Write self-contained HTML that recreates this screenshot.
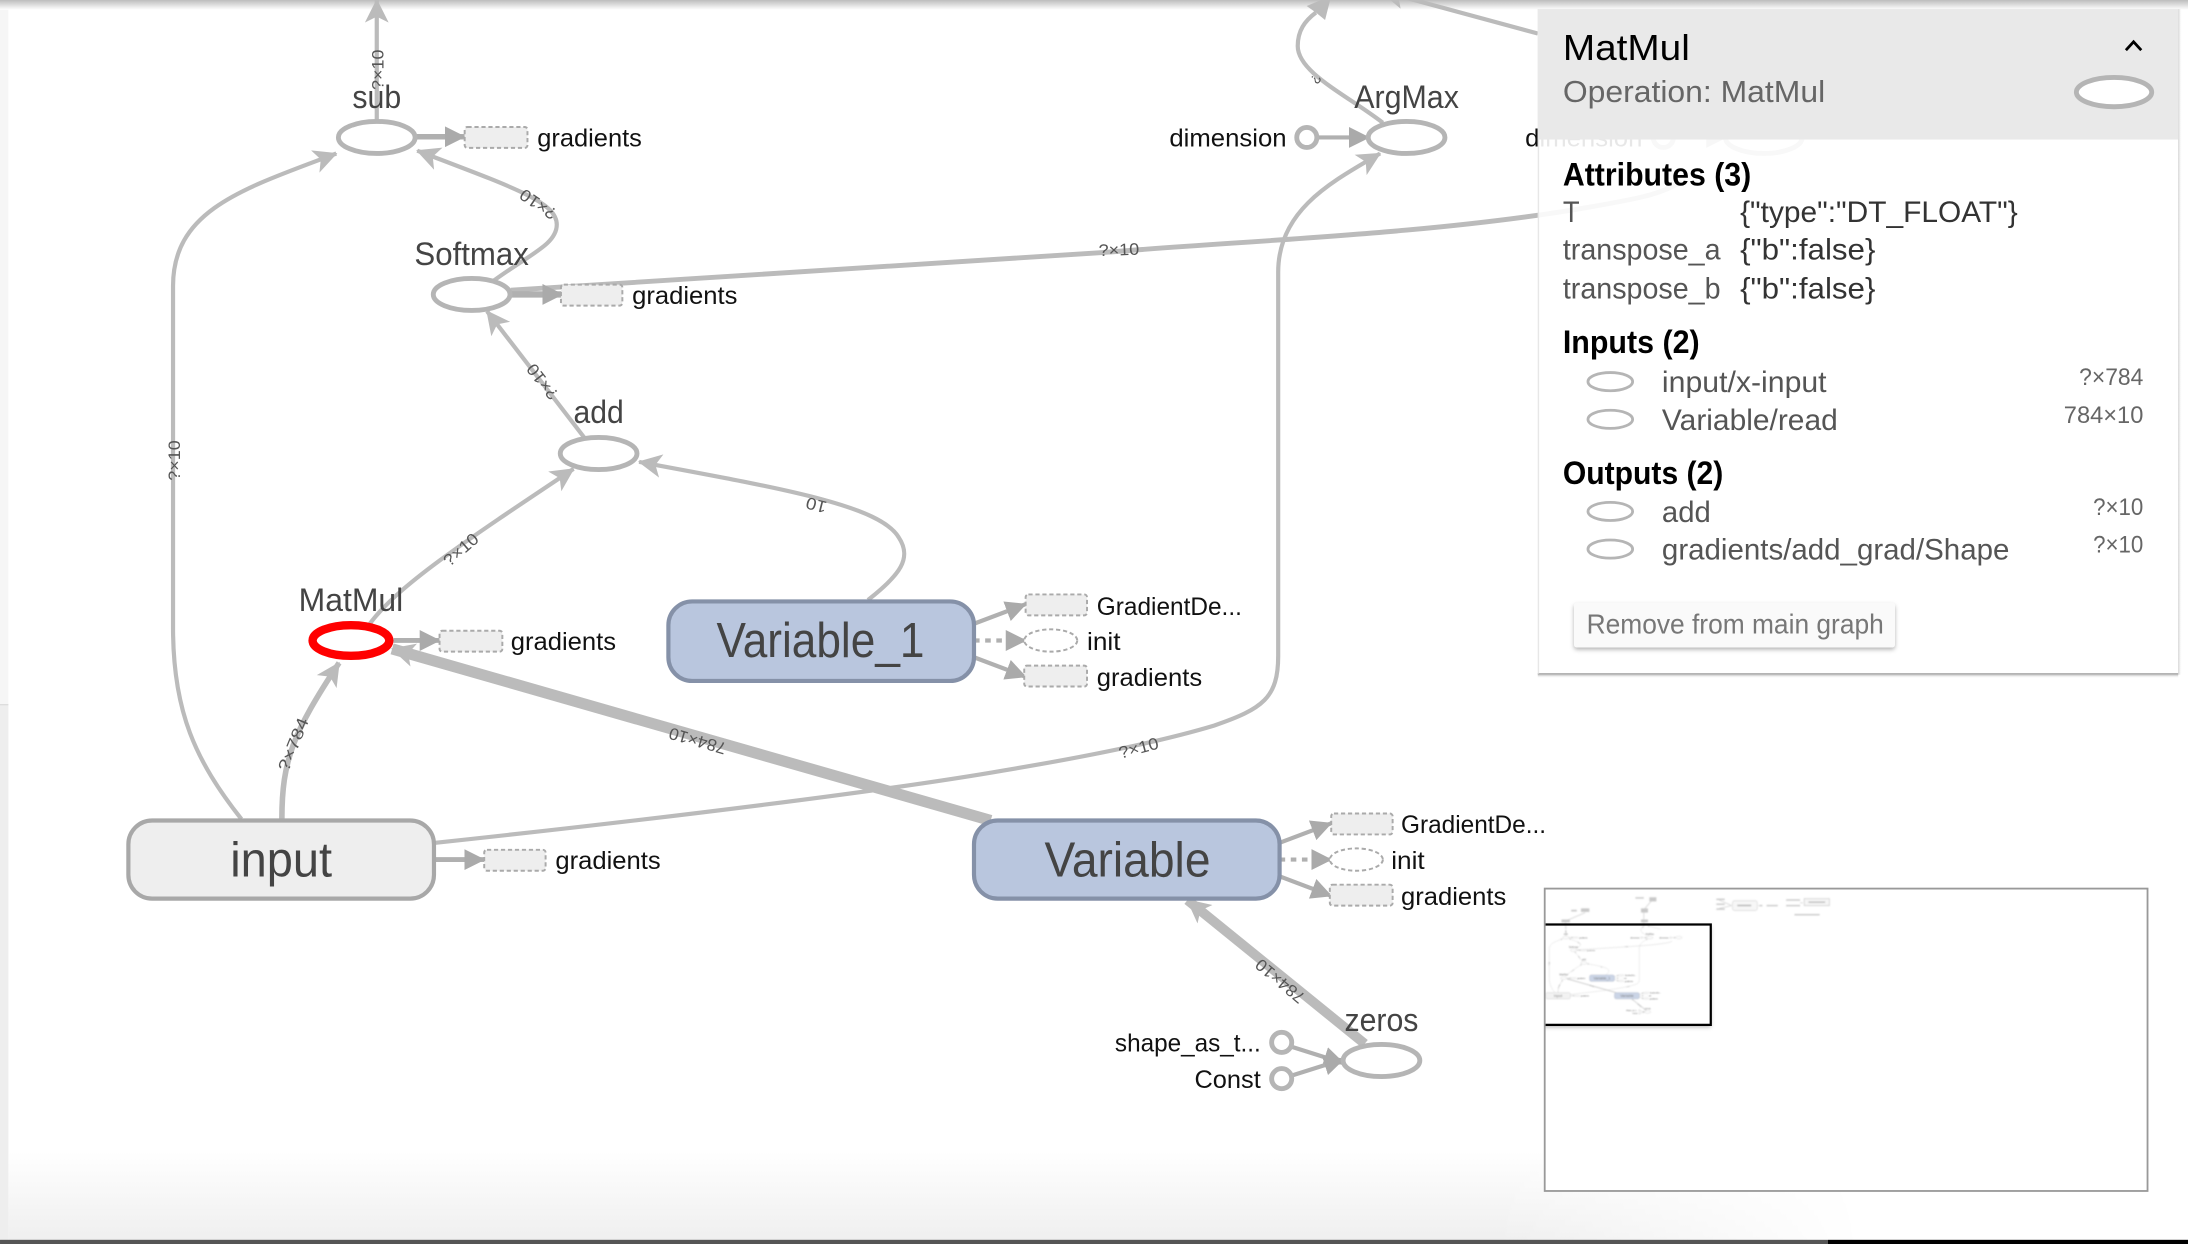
<!DOCTYPE html>
<html><head><meta charset="utf-8"><style>
html,body{margin:0;padding:0;background:#fff;overflow:hidden}
svg{display:block;font-family:"Liberation Sans",sans-serif}
.e{fill:none;stroke:#bbb;stroke-width:3;marker-end:url(#a)}
.en{fill:none;stroke:#bbb;stroke-width:3}
.an{fill:none;stroke:#b0b0b0;stroke-width:3;marker-end:url(#b)}
.d{stroke-dasharray:4 4}
.op{fill:#fff;stroke:#b5b5b5;stroke-width:3.5}
.box{fill:#eee;stroke:#aaa;stroke-width:1.4;stroke-dasharray:3 2}
.t{fill:#444;font-size:23px}
.g{fill:#111;font-size:18px}
.l{fill:#555;font-size:12px}
.big{fill:#444;font-size:35px}
.h{fill:#000;font-size:23px;font-weight:bold}
.p{fill:#555;font-size:21px}
.k{fill:#333;font-size:21px}
.s{fill:#666;font-size:17px}
.io{fill:#fff;stroke:#b5b5b5;stroke-width:2}
</style></head><body>
<svg xmlns="http://www.w3.org/2000/svg" width="2188" height="1244" viewBox="0 0 1568 891.5">
<defs>
<marker id="a" viewBox="0 0 10 10" refX="9.5" refY="5" markerUnits="userSpaceOnUse" markerWidth="19" markerHeight="17" orient="auto"><path d="M0,0L10,5L0,10L2.5,5z" fill="#bbb"/></marker>
<marker id="b" viewBox="0 0 10 10" refX="9.5" refY="5" markerUnits="userSpaceOnUse" markerWidth="15" markerHeight="15" orient="auto"><path d="M0,0L10,5L0,10z" fill="#aaa"/></marker>
<linearGradient id="top" x1="0" y1="0" x2="0" y2="1"><stop offset="0" stop-color="#bdbdbd"/><stop offset="1" stop-color="#fff"/></linearGradient>
<linearGradient id="bot" x1="0" y1="0" x2="0" y2="1"><stop offset="0" stop-color="#fff"/><stop offset="1" stop-color="#efefef"/></linearGradient>
<linearGradient id="fade" x1="0" y1="0" x2="1" y2="0"><stop offset="0.8" stop-color="#fff"/><stop offset="1" stop-color="#000"/></linearGradient>
<linearGradient id="pshadow" x1="0" y1="0" x2="0" y2="1"><stop offset="0" stop-color="#888"/><stop offset="1" stop-color="#fff" stop-opacity="0"/></linearGradient>
<linearGradient id="rshadow" x1="0" y1="0" x2="1" y2="0"><stop offset="0" stop-color="#ccc"/><stop offset="1" stop-color="#fff" stop-opacity="0"/></linearGradient>
<mask id="fm"><rect x="6" y="820" width="1330" height="70" fill="url(#fade)"/></mask>
<filter id="blur" x="-5%" y="-5%" width="110%" height="110%"><feGaussianBlur stdDeviation="0.6"/></filter>
<filter id="sh2" x="-10%" y="-20%" width="120%" height="140%"><feDropShadow dx="0" dy="1.5" stdDeviation="1.5" flood-color="#000" flood-opacity="0.3"/></filter>
<clipPath id="mm"><rect x="1107.5" y="637" width="431" height="216"/></clipPath>
</defs>
<rect width="1568" height="891.5" fill="#fff"/>
<rect x="0" y="0" width="6" height="505" fill="#f6f6f6"/>
<rect x="0" y="505" width="6" height="386" fill="#eee"/>
<rect x="0" y="504.5" width="6" height="1" fill="#ddd"/>
<rect x="6" y="825" width="1330" height="64" fill="url(#bot)" mask="url(#fm)"/>
<rect x="0" y="888.5" width="1310" height="3" fill="#555"/>
<rect x="1310" y="888.5" width="258" height="3" fill="#000"/>
<rect x="0" y="0" width="1568" height="7" fill="url(#top)"/>

<g id="graph">
<!-- edges -->
<path class="e" d="M270,87V0"/>
<path class="e" d="M173,587C140,545 124,510 124,450V205C124,150 175,135 241,110"/>
<path class="e" d="M354,201C380,182 399,175 399,161C399,145 370,135 299,108"/>
<path class="e" d="M419,314L349,223"/>
<path class="e" d="M265,447C285,420 330,390 411,336"/>
<path class="e" d="M622,430C645,412 654,400 644,385C630,362 560,350 458,331"/>
<path class="e" style="stroke-width:4" d="M202,587C202,545 210,525 243,475"/>
<path class="e" d="M312,604C480,586 640,566 720,552C780,542 830,532 870,520C905,508 916,500 916,470V195C916,150 955,130 989,110"/>
<path class="e" style="stroke-width:8" d="M710,588L281,465"/>
<path class="e" style="stroke-width:7" d="M978,748L851,645"/>
<path class="en" d="M991,88C965,68 930,52 930,33C930,22 935,15 943,9"/>
<path d="M954,-3L949.6,14.3L943,9L936.4,4.3z" fill="#bbb"/>
<path class="en" d="M1102,24L1006,-2"/>
<path d="M988,-7L1008.3,-10.2L1002,-3.5L1003.7,6.2z" fill="#bbb"/>
<path class="en" style="stroke-width:3.5" d="M366,208L790,181C900,172 1020,168 1130,150C1170,143 1190,140 1205,130"/>
<path class="an" style="stroke-width:4" d="M298,98H333"/>
<path class="an" style="stroke-width:4.5" d="M366,211H403"/>
<path class="an" style="stroke-width:3.5" d="M282,459H315"/>
<path class="an" style="stroke-width:3.5" d="M312,616H347"/>
<path class="an" d="M698,447L735,433"/>
<path class="an d" d="M698,459H735"/>
<path class="an" d="M698,471L735,485"/>
<path class="an" d="M917,604L954,590"/>
<path class="an d" d="M917,616H954"/>
<path class="an" d="M917,628L954,642"/>
<path class="an" d="M925,750L963,762"/>
<path class="an" d="M925,771L963,759"/>
<path class="an" d="M944,98.5H981"/>

<!-- nodes -->
<ellipse class="op" cx="270" cy="98.5" rx="27.5" ry="11.5"/>
<ellipse class="op" cx="338" cy="211" rx="27.5" ry="11.5"/>
<ellipse class="op" cx="429" cy="325" rx="27.5" ry="11.5"/>
<ellipse class="op" cx="251.5" cy="459" rx="27.5" ry="11"/>
<ellipse class="op" cx="990" cy="760" rx="27.5" ry="11.5"/>
<ellipse class="op" cx="1008" cy="98.5" rx="27.5" ry="11.5"/>
<circle cx="936.5" cy="98.5" r="7.2" fill="#fff" stroke="#b5b5b5" stroke-width="3.5"/>
<circle cx="918.5" cy="747" r="7.2" fill="#fff" stroke="#b5b5b5" stroke-width="3.5"/>
<circle cx="918.5" cy="773" r="7.2" fill="#fff" stroke="#b5b5b5" stroke-width="3.5"/>

<rect x="92" y="588" width="219" height="56" rx="17" fill="#eee" stroke="#a8a8a8" stroke-width="3"/>
<rect x="479" y="431" width="219" height="57" rx="17" fill="#b9c6de" stroke="#8591a8" stroke-width="3"/>
<rect x="698" y="588" width="219" height="56" rx="17" fill="#b9c6de" stroke="#8591a8" stroke-width="3"/>

<rect class="box" x="333" y="91" width="45" height="15" rx="2"/>
<rect class="box" x="402" y="204" width="44" height="15" rx="2"/>
<rect class="box" x="315" y="452" width="45" height="15" rx="2"/>
<rect class="box" x="347" y="609" width="44" height="15" rx="2"/>
<rect class="box" x="735" y="426" width="44" height="15" rx="2"/>
<ellipse class="box" style="fill:#fff" cx="753" cy="459" rx="19" ry="8"/>
<rect class="box" x="734" y="477" width="45" height="15" rx="2"/>
<rect class="box" x="954" y="583" width="44" height="15" rx="2"/>
<ellipse class="box" style="fill:#fff" cx="972" cy="616" rx="19" ry="8"/>
<rect class="box" x="953" y="634" width="45" height="15" rx="2"/>

<!-- labels -->
<text class="t" x="270" y="77.5" text-anchor="middle" textLength="35" lengthAdjust="spacingAndGlyphs">sub</text>
<text class="t" x="338" y="190" text-anchor="middle" textLength="82" lengthAdjust="spacingAndGlyphs">Softmax</text>
<text class="t" x="429" y="303" text-anchor="middle" textLength="36" lengthAdjust="spacingAndGlyphs">add</text>
<text class="t" x="251.5" y="438" text-anchor="middle" textLength="75" lengthAdjust="spacingAndGlyphs">MatMul</text>
<text class="t" x="990" y="739" text-anchor="middle" textLength="53" lengthAdjust="spacingAndGlyphs">zeros</text>
<text class="t" x="1008" y="77.5" text-anchor="middle" textLength="75" lengthAdjust="spacingAndGlyphs">ArgMax</text>
<text class="big" x="201.5" y="628" text-anchor="middle" textLength="73" lengthAdjust="spacingAndGlyphs">input</text>
<text class="big" x="588" y="471" text-anchor="middle" textLength="149" lengthAdjust="spacingAndGlyphs">Variable_1</text>
<text class="big" x="808" y="628" text-anchor="middle" textLength="119" lengthAdjust="spacingAndGlyphs">Variable</text>

<text class="g" x="385" y="105" textLength="75" lengthAdjust="spacingAndGlyphs">gradients</text>
<text class="g" x="453" y="217.7" textLength="75.5" lengthAdjust="spacingAndGlyphs">gradients</text>
<text class="g" x="366" y="465.7" textLength="75.5" lengthAdjust="spacingAndGlyphs">gradients</text>
<text class="g" x="398" y="622.7" textLength="75.5" lengthAdjust="spacingAndGlyphs">gradients</text>
<text class="g" x="786" y="440.7" textLength="104" lengthAdjust="spacingAndGlyphs">GradientDe...</text>
<text class="g" x="779" y="465.7" textLength="24" lengthAdjust="spacingAndGlyphs">init</text>
<text class="g" x="786" y="491.7" textLength="75.5" lengthAdjust="spacingAndGlyphs">gradients</text>
<text class="g" x="1004" y="597" textLength="104" lengthAdjust="spacingAndGlyphs">GradientDe...</text>
<text class="g" x="997" y="622.7" textLength="24" lengthAdjust="spacingAndGlyphs">init</text>
<text class="g" x="1004" y="648.7" textLength="75.5" lengthAdjust="spacingAndGlyphs">gradients</text>
<text class="g" x="799" y="753.7" textLength="104.5" lengthAdjust="spacingAndGlyphs">shape_as_t...</text>
<text class="g" x="856" y="779.7" textLength="47.5" lengthAdjust="spacingAndGlyphs">Const</text>
<text class="g" x="838" y="105" textLength="84" lengthAdjust="spacingAndGlyphs">dimension</text>

<g text-anchor="middle">
<text class="l" transform="translate(275,50) rotate(-90)" textLength="29" lengthAdjust="spacingAndGlyphs">?×10</text>
<text class="l" transform="translate(129,330) rotate(-90)" textLength="29" lengthAdjust="spacingAndGlyphs">?×10</text>
<text class="l" transform="translate(388,143) rotate(214)" textLength="29" lengthAdjust="spacingAndGlyphs">?×10</text>
<text class="l" transform="translate(392,271) rotate(232)" textLength="29" lengthAdjust="spacingAndGlyphs">?×10</text>
<text class="l" transform="translate(333,397) rotate(-41)" textLength="29" lengthAdjust="spacingAndGlyphs">?×10</text>
<text class="l" transform="translate(586,358) rotate(194)" textLength="15" lengthAdjust="spacingAndGlyphs">10</text>
<text class="l" transform="translate(214,535) rotate(-68)" textLength="40" lengthAdjust="spacingAndGlyphs">?×784</text>
<text class="l" transform="translate(501,527) rotate(196)" textLength="42" lengthAdjust="spacingAndGlyphs">784×10</text>
<text class="l" transform="translate(817,540) rotate(-15)" textLength="29" lengthAdjust="spacingAndGlyphs">?×10</text>
<text class="l" transform="translate(802,183) rotate(-2)" textLength="29" lengthAdjust="spacingAndGlyphs">?×10</text>
<text class="l" transform="translate(920,700) rotate(220)" textLength="42" lengthAdjust="spacingAndGlyphs">784×10</text>
<text class="l" transform="translate(940,55) rotate(120)" style="font-size:10px">?</text>
</g>

<!-- continues behind panel -->
<text class="g" x="1093" y="105" textLength="84" lengthAdjust="spacingAndGlyphs">dimension</text>
<circle cx="1192" cy="98.5" r="7.2" fill="#fff" stroke="#b5b5b5" stroke-width="3.5"/>
<path class="an" d="M1200,98.5H1237"/>
<ellipse class="op" cx="1264" cy="98.5" rx="27.5" ry="11.5"/>
</g>

<!-- selected node -->
<ellipse cx="251.5" cy="459" rx="27.5" ry="11" fill="#fff" stroke="#f00" stroke-width="6"/>

<!-- panel -->
<rect x="1102" y="6.5" width="459" height="476.5" fill="#fff" fill-opacity="0.9"/>
<rect x="1102" y="482.5" width="459" height="3.5" fill="url(#pshadow)"/>
<rect x="1561" y="6.5" width="2.5" height="477" fill="url(#rshadow)"/>
<rect x="1102" y="6.5" width="1" height="476.5" fill="#ddd" opacity="0.7"/>
<rect x="1102" y="6.5" width="459" height="93.5" fill="#e8e8e8" fill-opacity="0.97"/>
<text x="1120" y="43" fill="#000" font-size="26" textLength="91" lengthAdjust="spacingAndGlyphs">MatMul</text>
<text x="1120" y="73" fill="#666" font-size="22" textLength="188" lengthAdjust="spacingAndGlyphs">Operation: MatMul</text>
<path d="M1523.5,36L1529,30L1534.5,36" fill="none" stroke="#000" stroke-width="2"/>
<ellipse cx="1515" cy="66" rx="27" ry="10.5" fill="#fff" stroke="#b5b5b5" stroke-width="3.5"/>

<text class="h" x="1120" y="133" textLength="135" lengthAdjust="spacingAndGlyphs">Attributes (3)</text>
<text class="p" x="1120" y="159" textLength="12" lengthAdjust="spacingAndGlyphs">T</text>
<text class="k" x="1247" y="159" textLength="199" lengthAdjust="spacingAndGlyphs">{"type":"DT_FLOAT"}</text>
<text class="p" x="1120" y="186" textLength="113" lengthAdjust="spacingAndGlyphs">transpose_a</text>
<text class="k" x="1247" y="186" textLength="97" lengthAdjust="spacingAndGlyphs">{"b":false}</text>
<text class="p" x="1120" y="214" textLength="113" lengthAdjust="spacingAndGlyphs">transpose_b</text>
<text class="k" x="1247" y="214" textLength="97" lengthAdjust="spacingAndGlyphs">{"b":false}</text>

<text class="h" x="1120" y="253" textLength="98" lengthAdjust="spacingAndGlyphs">Inputs (2)</text>
<ellipse class="io" cx="1154" cy="273.5" rx="16" ry="6.5"/>
<ellipse class="io" cx="1154" cy="300.5" rx="16" ry="6.5"/>
<text class="p" x="1191" y="281" textLength="118" lengthAdjust="spacingAndGlyphs">input/x-input</text>
<text class="p" x="1191" y="308" textLength="126" lengthAdjust="spacingAndGlyphs">Variable/read</text>
<text class="s" x="1490" y="276" textLength="46" lengthAdjust="spacingAndGlyphs">?×784</text>
<text class="s" x="1479" y="303" textLength="57" lengthAdjust="spacingAndGlyphs">784×10</text>

<text class="h" x="1120" y="347" textLength="115" lengthAdjust="spacingAndGlyphs">Outputs (2)</text>
<ellipse class="io" cx="1154" cy="366.5" rx="16" ry="6.5"/>
<ellipse class="io" cx="1154" cy="393.5" rx="16" ry="6.5"/>
<text class="p" x="1191" y="374" textLength="35" lengthAdjust="spacingAndGlyphs">add</text>
<text class="p" x="1191" y="401" textLength="249" lengthAdjust="spacingAndGlyphs">gradients/add_grad/Shape</text>
<text class="s" x="1500" y="369" textLength="36" lengthAdjust="spacingAndGlyphs">?×10</text>
<text class="s" x="1500" y="396" textLength="36" lengthAdjust="spacingAndGlyphs">?×10</text>

<rect x="1128" y="432" width="230" height="32" rx="2" fill="#fafafa" filter="url(#sh2)"/>
<text x="1137" y="454" fill="#777" font-size="20" textLength="213" lengthAdjust="spacingAndGlyphs">Remove from main graph</text>

<!-- minimap -->
<rect x="1107" y="636.8" width="432" height="216.7" fill="#fff"/>
<g clip-path="url(#mm)">
<rect x="1100" y="662.5" width="126" height="72" fill="#fff" filter="url(#sh2)"/>
<g filter="url(#blur)" opacity="0.75">
<use href="#graph" transform="translate(1100.1,664) scale(0.0815,0.0805)"/>
</g>
<g filter="url(#blur)" fill="#bbb" opacity="0.8">
<path d="M1122,664V660L1136,654M1178,664V652L1184,645M1232,645L1241,649M1232,651L1241,649M1260,649H1262M1292,647H1290" fill="none" stroke="#ccc" stroke-width="0.6"/>
<rect x="1119" y="659" width="6" height="2"/>
<rect x="1133" y="651" width="6" height="2.5"/>
<rect x="1126" y="652" width="4" height="1.2"/>
<rect x="1176" y="659" width="5" height="2"/>
<rect x="1176" y="651" width="5" height="3"/>
<rect x="1172" y="643" width="6" height="1"/>
<rect x="1182" y="643" width="5" height="3"/>
<rect x="1230" y="644" width="6" height="1"/>
<rect x="1230" y="647.5" width="6" height="1"/>
<rect x="1230" y="651" width="6" height="1"/>
<rect x="1241.6" y="645.5" width="17.7" height="7" rx="1.5" fill="#f6f6f6" stroke="#ccc" stroke-width="0.5"/>
<rect x="1245" y="648.3" width="10" height="1.2" fill="#aaa"/>
<rect x="1261" y="648.5" width="2" height="1"/>
<rect x="1266" y="648.5" width="8" height="1"/>
<rect x="1280" y="644.5" width="10" height="1"/>
<rect x="1280" y="648.5" width="10" height="1"/>
<rect x="1293" y="644" width="18" height="5" fill="#f4f4f4" stroke="#bbb" stroke-width="0.5"/>
<rect x="1296" y="646" width="12" height="1" fill="#aaa"/>
<rect x="1286" y="655" width="18" height="1"/>
</g>
<path d="M1107,662.5H1226V734.5H1107" fill="none" stroke="#000" stroke-width="1.6"/>
</g>
<rect x="1107" y="636.8" width="432" height="216.7" fill="none" stroke="#999" stroke-width="1.3"/>
</svg>
</body></html>
